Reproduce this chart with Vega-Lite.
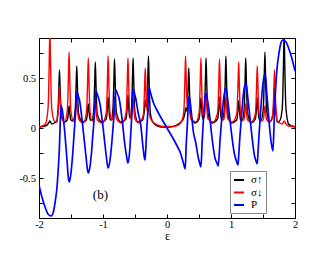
{
"$schema": "https://vega.github.io/schema/vega-lite/v6.json",
"width": 256, "height": 180,
"autosize": {"type": "none"},
"padding": {"left": 39, "top": 38, "right": 37, "bottom": 39},
"background": "white",
"config": {
 "view": {"stroke": "black", "strokeWidth": 1},
 "font": "Liberation Serif",
 "axis": {"domainColor": "black", "domainWidth": 1, "tickColor": "black", "tickWidth": 1, "tickSize": -4, "labelFont": "Liberation Serif", "labelFontSize": 10.5, "labelColor": "black", "grid": false, "labelFlush": false}
},
"datasets": {
"up": [{"e":-2,"v":0.01},{"e":-1.9,"v":0.02},{"e":-1.86,"v":0.04},{"e":-1.84,"v":0.06},{"e":-1.83,"v":0.07},{"e":-1.82,"v":0.06},{"e":-1.8,"v":0.04},{"e":-1.76,"v":0.05},{"e":-1.72,"v":0.07},{"e":-1.71,"v":0.13},{"e":-1.7,"v":0.21},{"e":-1.69,"v":0.4},{"e":-1.68,"v":0.58},{"e":-1.67,"v":0.4},{"e":-1.66,"v":0.21},{"e":-1.65,"v":0.13},{"e":-1.6,"v":0.06},{"e":-1.56,"v":0.08},{"e":-1.55,"v":0.1},{"e":-1.54,"v":0.16},{"e":-1.53,"v":0.22},{"e":-1.52,"v":0.16},{"e":-1.51,"v":0.1},{"e":-1.5,"v":0.08},{"e":-1.47,"v":0.07},{"e":-1.44,"v":0.14},{"e":-1.43,"v":0.23},{"e":-1.42,"v":0.43},{"e":-1.41,"v":0.62},{"e":-1.4,"v":0.43},{"e":-1.39,"v":0.23},{"e":-1.38,"v":0.14},{"e":-1.32,"v":0.06},{"e":-1.26,"v":0.08},{"e":-1.25,"v":0.11},{"e":-1.24,"v":0.18},{"e":-1.23,"v":0.24},{"e":-1.22,"v":0.18},{"e":-1.21,"v":0.11},{"e":-1.2,"v":0.08},{"e":-1.17,"v":0.08},{"e":-1.15,"v":0.14},{"e":-1.14,"v":0.24},{"e":-1.13,"v":0.45},{"e":-1.12,"v":0.66},{"e":-1.11,"v":0.45},{"e":-1.1,"v":0.24},{"e":-1.09,"v":0.14},{"e":-1.02,"v":0.06},{"e":-0.95,"v":0.09},{"e":-0.94,"v":0.13},{"e":-0.93,"v":0.22},{"e":-0.92,"v":0.31},{"e":-0.91,"v":0.22},{"e":-0.9,"v":0.13},{"e":-0.89,"v":0.09},{"e":-0.87,"v":0.08},{"e":-0.85,"v":0.15},{"e":-0.84,"v":0.25},{"e":-0.83,"v":0.47},{"e":-0.82,"v":0.69},{"e":-0.81,"v":0.47},{"e":-0.8,"v":0.25},{"e":-0.79,"v":0.15},{"e":-0.72,"v":0.06},{"e":-0.64,"v":0.09},{"e":-0.63,"v":0.14},{"e":-0.62,"v":0.23},{"e":-0.61,"v":0.33},{"e":-0.6,"v":0.23},{"e":-0.59,"v":0.14},{"e":-0.58,"v":0.1},{"e":-0.56,"v":0.15},{"e":-0.55,"v":0.25},{"e":-0.54,"v":0.48},{"e":-0.53,"v":0.7},{"e":-0.52,"v":0.48},{"e":-0.51,"v":0.25},{"e":-0.5,"v":0.15},{"e":-0.45,"v":0.06},{"e":-0.38,"v":0.08},{"e":-0.36,"v":0.14},{"e":-0.35,"v":0.2},{"e":-0.34,"v":0.28},{"e":-0.33,"v":0.22},{"e":-0.32,"v":0.22},{"e":-0.31,"v":0.3},{"e":-0.3,"v":0.49},{"e":-0.29,"v":0.72},{"e":-0.28,"v":0.49},{"e":-0.27,"v":0.26},{"e":-0.26,"v":0.15},{"e":-0.23,"v":0.07},{"e":-0.18,"v":0.03},{"e":-0.1,"v":0.01},{"e":0,"v":0.01},{"e":0.05,"v":0.01},{"e":0.15,"v":0.03},{"e":0.22,"v":0.06},{"e":0.26,"v":0.1},{"e":0.28,"v":0.15},{"e":0.29,"v":0.2},{"e":0.3,"v":0.17},{"e":0.31,"v":0.18},{"e":0.32,"v":0.24},{"e":0.33,"v":0.41},{"e":0.34,"v":0.6},{"e":0.35,"v":0.41},{"e":0.36,"v":0.22},{"e":0.37,"v":0.13},{"e":0.44,"v":0.05},{"e":0.5,"v":0.09},{"e":0.51,"v":0.13},{"e":0.52,"v":0.22},{"e":0.53,"v":0.3},{"e":0.54,"v":0.22},{"e":0.55,"v":0.13},{"e":0.56,"v":0.09},{"e":0.58,"v":0.15},{"e":0.59,"v":0.25},{"e":0.6,"v":0.48},{"e":0.61,"v":0.7},{"e":0.62,"v":0.48},{"e":0.63,"v":0.25},{"e":0.64,"v":0.15},{"e":0.7,"v":0.05},{"e":0.79,"v":0.09},{"e":0.8,"v":0.13},{"e":0.81,"v":0.22},{"e":0.82,"v":0.31},{"e":0.83,"v":0.22},{"e":0.84,"v":0.13},{"e":0.85,"v":0.09},{"e":0.86,"v":0.08},{"e":0.89,"v":0.15},{"e":0.9,"v":0.26},{"e":0.91,"v":0.49},{"e":0.92,"v":0.72},{"e":0.93,"v":0.49},{"e":0.94,"v":0.26},{"e":0.95,"v":0.15},{"e":1.01,"v":0.05},{"e":1.09,"v":0.08},{"e":1.1,"v":0.12},{"e":1.11,"v":0.2},{"e":1.12,"v":0.27},{"e":1.13,"v":0.2},{"e":1.14,"v":0.12},{"e":1.15,"v":0.08},{"e":1.17,"v":0.07},{"e":1.2,"v":0.15},{"e":1.21,"v":0.25},{"e":1.22,"v":0.48},{"e":1.23,"v":0.7},{"e":1.24,"v":0.48},{"e":1.25,"v":0.25},{"e":1.26,"v":0.15},{"e":1.31,"v":0.05},{"e":1.38,"v":0.09},{"e":1.39,"v":0.13},{"e":1.4,"v":0.22},{"e":1.41,"v":0.3},{"e":1.42,"v":0.22},{"e":1.43,"v":0.13},{"e":1.44,"v":0.09},{"e":1.46,"v":0.07},{"e":1.5,"v":0.16},{"e":1.51,"v":0.27},{"e":1.52,"v":0.52},{"e":1.53,"v":0.76},{"e":1.54,"v":0.52},{"e":1.55,"v":0.27},{"e":1.56,"v":0.16},{"e":1.6,"v":0.06},{"e":1.65,"v":0.11},{"e":1.66,"v":0.16},{"e":1.67,"v":0.29},{"e":1.68,"v":0.42},{"e":1.69,"v":0.29},{"e":1.7,"v":0.16},{"e":1.71,"v":0.11},{"e":1.72,"v":0.06},{"e":1.76,"v":0.07},{"e":1.8,"v":0.19},{"e":1.81,"v":0.34},{"e":1.82,"v":0.64},{"e":1.83,"v":0.95},{"e":1.84,"v":0.64},{"e":1.85,"v":0.34},{"e":1.86,"v":0.19},{"e":1.9,"v":0.04},{"e":1.95,"v":0.02},{"e":2,"v":0.01}],
"down": [{"e":-2,"v":0.01},{"e":-1.95,"v":0.02},{"e":-1.9,"v":0.04},{"e":-1.86,"v":0.19},{"e":-1.85,"v":0.34},{"e":-1.84,"v":0.66},{"e":-1.83,"v":0.98},{"e":-1.82,"v":0.66},{"e":-1.81,"v":0.34},{"e":-1.8,"v":0.19},{"e":-1.76,"v":0.07},{"e":-1.72,"v":0.06},{"e":-1.71,"v":0.11},{"e":-1.7,"v":0.16},{"e":-1.69,"v":0.29},{"e":-1.68,"v":0.42},{"e":-1.67,"v":0.29},{"e":-1.66,"v":0.16},{"e":-1.65,"v":0.11},{"e":-1.6,"v":0.06},{"e":-1.56,"v":0.16},{"e":-1.55,"v":0.27},{"e":-1.54,"v":0.52},{"e":-1.53,"v":0.76},{"e":-1.52,"v":0.52},{"e":-1.51,"v":0.27},{"e":-1.5,"v":0.16},{"e":-1.46,"v":0.07},{"e":-1.44,"v":0.09},{"e":-1.43,"v":0.13},{"e":-1.42,"v":0.22},{"e":-1.41,"v":0.3},{"e":-1.4,"v":0.22},{"e":-1.39,"v":0.13},{"e":-1.38,"v":0.09},{"e":-1.31,"v":0.05},{"e":-1.26,"v":0.15},{"e":-1.25,"v":0.25},{"e":-1.24,"v":0.48},{"e":-1.23,"v":0.7},{"e":-1.22,"v":0.48},{"e":-1.21,"v":0.25},{"e":-1.2,"v":0.15},{"e":-1.17,"v":0.07},{"e":-1.15,"v":0.08},{"e":-1.14,"v":0.12},{"e":-1.13,"v":0.2},{"e":-1.12,"v":0.27},{"e":-1.11,"v":0.2},{"e":-1.1,"v":0.12},{"e":-1.09,"v":0.08},{"e":-1.01,"v":0.05},{"e":-0.95,"v":0.15},{"e":-0.94,"v":0.26},{"e":-0.93,"v":0.49},{"e":-0.92,"v":0.72},{"e":-0.91,"v":0.49},{"e":-0.9,"v":0.26},{"e":-0.89,"v":0.15},{"e":-0.86,"v":0.08},{"e":-0.85,"v":0.09},{"e":-0.84,"v":0.13},{"e":-0.83,"v":0.22},{"e":-0.82,"v":0.31},{"e":-0.81,"v":0.22},{"e":-0.8,"v":0.13},{"e":-0.79,"v":0.09},{"e":-0.7,"v":0.05},{"e":-0.64,"v":0.15},{"e":-0.63,"v":0.25},{"e":-0.62,"v":0.48},{"e":-0.61,"v":0.7},{"e":-0.6,"v":0.48},{"e":-0.59,"v":0.25},{"e":-0.58,"v":0.15},{"e":-0.56,"v":0.09},{"e":-0.55,"v":0.13},{"e":-0.54,"v":0.22},{"e":-0.53,"v":0.3},{"e":-0.52,"v":0.22},{"e":-0.51,"v":0.13},{"e":-0.5,"v":0.09},{"e":-0.44,"v":0.05},{"e":-0.37,"v":0.13},{"e":-0.36,"v":0.22},{"e":-0.35,"v":0.41},{"e":-0.34,"v":0.6},{"e":-0.33,"v":0.41},{"e":-0.32,"v":0.24},{"e":-0.31,"v":0.18},{"e":-0.3,"v":0.17},{"e":-0.29,"v":0.2},{"e":-0.28,"v":0.15},{"e":-0.26,"v":0.1},{"e":-0.22,"v":0.06},{"e":-0.15,"v":0.03},{"e":-0.05,"v":0.015},{"e":0,"v":0.015},{"e":0.1,"v":0.015},{"e":0.18,"v":0.03},{"e":0.23,"v":0.07},{"e":0.26,"v":0.15},{"e":0.27,"v":0.26},{"e":0.28,"v":0.49},{"e":0.29,"v":0.72},{"e":0.3,"v":0.49},{"e":0.31,"v":0.3},{"e":0.32,"v":0.22},{"e":0.33,"v":0.22},{"e":0.34,"v":0.28},{"e":0.35,"v":0.2},{"e":0.36,"v":0.14},{"e":0.38,"v":0.08},{"e":0.45,"v":0.06},{"e":0.5,"v":0.15},{"e":0.51,"v":0.25},{"e":0.52,"v":0.48},{"e":0.53,"v":0.7},{"e":0.54,"v":0.48},{"e":0.55,"v":0.25},{"e":0.56,"v":0.15},{"e":0.58,"v":0.1},{"e":0.59,"v":0.14},{"e":0.6,"v":0.23},{"e":0.61,"v":0.33},{"e":0.62,"v":0.23},{"e":0.63,"v":0.14},{"e":0.64,"v":0.09},{"e":0.72,"v":0.06},{"e":0.79,"v":0.15},{"e":0.8,"v":0.25},{"e":0.81,"v":0.47},{"e":0.82,"v":0.69},{"e":0.83,"v":0.47},{"e":0.84,"v":0.25},{"e":0.85,"v":0.15},{"e":0.87,"v":0.08},{"e":0.89,"v":0.09},{"e":0.9,"v":0.13},{"e":0.91,"v":0.22},{"e":0.92,"v":0.31},{"e":0.93,"v":0.22},{"e":0.94,"v":0.13},{"e":0.95,"v":0.09},{"e":1.02,"v":0.06},{"e":1.09,"v":0.14},{"e":1.1,"v":0.24},{"e":1.11,"v":0.45},{"e":1.12,"v":0.66},{"e":1.13,"v":0.45},{"e":1.14,"v":0.24},{"e":1.15,"v":0.14},{"e":1.17,"v":0.08},{"e":1.2,"v":0.08},{"e":1.21,"v":0.11},{"e":1.22,"v":0.18},{"e":1.23,"v":0.24},{"e":1.24,"v":0.18},{"e":1.25,"v":0.11},{"e":1.26,"v":0.08},{"e":1.32,"v":0.06},{"e":1.38,"v":0.14},{"e":1.39,"v":0.23},{"e":1.4,"v":0.43},{"e":1.41,"v":0.62},{"e":1.42,"v":0.43},{"e":1.43,"v":0.23},{"e":1.44,"v":0.14},{"e":1.47,"v":0.07},{"e":1.5,"v":0.08},{"e":1.51,"v":0.1},{"e":1.52,"v":0.16},{"e":1.53,"v":0.22},{"e":1.54,"v":0.16},{"e":1.55,"v":0.1},{"e":1.56,"v":0.08},{"e":1.6,"v":0.06},{"e":1.65,"v":0.13},{"e":1.66,"v":0.21},{"e":1.67,"v":0.4},{"e":1.68,"v":0.58},{"e":1.69,"v":0.4},{"e":1.7,"v":0.21},{"e":1.71,"v":0.13},{"e":1.72,"v":0.07},{"e":1.76,"v":0.05},{"e":1.8,"v":0.04},{"e":1.82,"v":0.06},{"e":1.83,"v":0.07},{"e":1.84,"v":0.06},{"e":1.86,"v":0.04},{"e":1.9,"v":0.02},{"e":2,"v":0.015}],
"p": [{"e":-2,"v":-0.57},{"e":-1.95,"v":-0.7},{"e":-1.9,"v":-0.8},{"e":-1.86,"v":-0.86},{"e":-1.81,"v":-0.88},{"e":-1.78,"v":-0.85},{"e":-1.75,"v":-0.75},{"e":-1.72,"v":-0.6},{"e":-1.7,"v":-0.42},{"e":-1.68,"v":-0.18},{"e":-1.67,"v":0.02},{"e":-1.655,"v":0.23},{"e":-1.64,"v":0.19},{"e":-1.625,"v":0.13},{"e":-1.595,"v":-0.06},{"e":-1.56,"v":-0.34},{"e":-1.545,"v":-0.48},{"e":-1.53,"v":-0.54},{"e":-1.515,"v":-0.51},{"e":-1.5,"v":-0.45},{"e":-1.47,"v":-0.23},{"e":-1.44,"v":0.05},{"e":-1.425,"v":0.21},{"e":-1.41,"v":0.36},{"e":-1.39,"v":0.33},{"e":-1.365,"v":0.27},{"e":-1.31,"v":-0.02},{"e":-1.26,"v":-0.32},{"e":-1.245,"v":-0.41},{"e":-1.23,"v":-0.45},{"e":-1.21,"v":-0.41},{"e":-1.18,"v":-0.25},{"e":-1.16,"v":-0.08},{"e":-1.14,"v":0.08},{"e":-1.12,"v":0.28},{"e":-1.11,"v":0.37},{"e":-1.09,"v":0.34},{"e":-1.05,"v":0.25},{"e":-1,"v":0.01},{"e":-0.96,"v":-0.22},{"e":-0.94,"v":-0.33},{"e":-0.92,"v":-0.4},{"e":-0.89,"v":-0.32},{"e":-0.86,"v":-0.13},{"e":-0.83,"v":0.11},{"e":-0.8,"v":0.38},{"e":-0.78,"v":0.35},{"e":-0.75,"v":0.3},{"e":-0.7,"v":0.08},{"e":-0.66,"v":-0.16},{"e":-0.63,"v":-0.29},{"e":-0.61,"v":-0.35},{"e":-0.59,"v":-0.28},{"e":-0.57,"v":-0.1},{"e":-0.55,"v":0.13},{"e":-0.53,"v":0.39},{"e":-0.51,"v":0.35},{"e":-0.49,"v":0.3},{"e":-0.45,"v":0.15},{"e":-0.41,"v":0.03},{"e":-0.38,"v":-0.16},{"e":-0.36,"v":-0.27},{"e":-0.345,"v":-0.32},{"e":-0.335,"v":-0.25},{"e":-0.32,"v":-0.06},{"e":-0.3,"v":0.17},{"e":-0.285,"v":0.41},{"e":-0.26,"v":0.36},{"e":-0.23,"v":0.29},{"e":-0.21,"v":0.25},{"e":-0.15,"v":0.17},{"e":-0.1,"v":0.11},{"e":-0.05,"v":0.055},{"e":0,"v":0},{"e":0.05,"v":-0.055},{"e":0.1,"v":-0.11},{"e":0.15,"v":-0.17},{"e":0.21,"v":-0.25},{"e":0.23,"v":-0.29},{"e":0.26,"v":-0.36},{"e":0.285,"v":-0.41},{"e":0.3,"v":-0.17},{"e":0.32,"v":0.06},{"e":0.335,"v":0.25},{"e":0.345,"v":0.32},{"e":0.36,"v":0.27},{"e":0.38,"v":0.16},{"e":0.41,"v":-0.03},{"e":0.45,"v":-0.15},{"e":0.49,"v":-0.3},{"e":0.51,"v":-0.35},{"e":0.53,"v":-0.39},{"e":0.55,"v":-0.13},{"e":0.57,"v":0.1},{"e":0.59,"v":0.28},{"e":0.61,"v":0.35},{"e":0.63,"v":0.29},{"e":0.66,"v":0.16},{"e":0.7,"v":-0.08},{"e":0.75,"v":-0.3},{"e":0.78,"v":-0.35},{"e":0.8,"v":-0.38},{"e":0.83,"v":-0.11},{"e":0.86,"v":0.13},{"e":0.89,"v":0.32},{"e":0.92,"v":0.4},{"e":0.94,"v":0.33},{"e":0.96,"v":0.22},{"e":1,"v":-0.01},{"e":1.05,"v":-0.25},{"e":1.09,"v":-0.34},{"e":1.11,"v":-0.37},{"e":1.12,"v":-0.28},{"e":1.14,"v":-0.08},{"e":1.16,"v":0.08},{"e":1.18,"v":0.25},{"e":1.21,"v":0.41},{"e":1.23,"v":0.45},{"e":1.245,"v":0.41},{"e":1.26,"v":0.32},{"e":1.31,"v":0.02},{"e":1.365,"v":-0.27},{"e":1.39,"v":-0.33},{"e":1.41,"v":-0.36},{"e":1.425,"v":-0.21},{"e":1.44,"v":-0.05},{"e":1.47,"v":0.23},{"e":1.5,"v":0.45},{"e":1.515,"v":0.51},{"e":1.53,"v":0.54},{"e":1.545,"v":0.48},{"e":1.56,"v":0.34},{"e":1.595,"v":0.06},{"e":1.625,"v":-0.13},{"e":1.64,"v":-0.19},{"e":1.655,"v":-0.23},{"e":1.67,"v":-0.02},{"e":1.68,"v":0.18},{"e":1.7,"v":0.42},{"e":1.72,"v":0.6},{"e":1.75,"v":0.75},{"e":1.78,"v":0.85},{"e":1.81,"v":0.88},{"e":1.86,"v":0.86},{"e":1.9,"v":0.8},{"e":1.95,"v":0.7},{"e":2,"v":0.57}],
"lab": [{"e":-1.04,"v":-0.667,"t":"(b)"}]
},
"layer": [
 {"data": {"name": "up"},
  "mark": {"type": "line", "interpolate": "monotone", "strokeWidth": 1.4, "clip": true},
  "encoding": {
   "x": {"field": "e", "type": "quantitative", "scale": {"domain": [-2, 2], "nice": false, "zero": false},
         "axis": {"values": [-2,-1.5,-1,-0.5,0,0.5,1,1.5,2], "labelExpr": "datum.value % 1 === 0 ? '' + datum.value : ''", "labelPadding": 5, "title": "ε", "titleFont": "Liberation Serif", "titleFontSize": 12, "titleFontWeight": "normal", "titleColor": "black", "titleBaseline": "alphabetic", "titleY": 21}},
   "y": {"field": "v", "type": "quantitative", "scale": {"domain": [-0.9, 0.9], "nice": false, "zero": false},
         "axis": {"values": [-0.75,-0.5,-0.25,0,0.25,0.5,0.75], "labelExpr": "datum.value % 0.5 === 0 ? '' + datum.value : ''", "labelPadding": 7.5, "title": null}},
   "color": {"datum": "σ↑", "type": "nominal",
             "scale": {"domain": ["σ↑", "σ↓", "P"], "range": ["#000000", "#ff0000", "#0000ff"]},
             "legend": {"orient": "none", "legendX": 191, "legendY": 133, "title": null, "strokeColor": "#888888", "fillColor": "white", "padding": 3, "symbolType": "stroke", "symbolSize": 100, "symbolStrokeWidth": 2, "labelFont": "Liberation Serif", "labelFontSize": 11, "labelColor": "black", "labelOffset": 6, "rowPadding": 1.5}}
  }},
 {"data": {"name": "down"},
  "mark": {"type": "line", "interpolate": "monotone", "strokeWidth": 1.4, "clip": true},
  "encoding": {
   "x": {"field": "e", "type": "quantitative", "scale": {"domain": [-2, 2], "nice": false, "zero": false}, "axis": null},
   "y": {"field": "v", "type": "quantitative", "scale": {"domain": [-0.9, 0.9], "nice": false, "zero": false}, "axis": null},
   "color": {"datum": "σ↓", "type": "nominal"}
  }},
 {"data": {"name": "p"},
  "mark": {"type": "line", "interpolate": "monotone", "strokeWidth": 1.7, "clip": true},
  "encoding": {
   "x": {"field": "e", "type": "quantitative", "scale": {"domain": [-2, 2], "nice": false, "zero": false}, "axis": null},
   "y": {"field": "v", "type": "quantitative", "scale": {"domain": [-0.9, 0.9], "nice": false, "zero": false}, "axis": null},
   "color": {"datum": "P", "type": "nominal"}
  }},
 {"data": {"name": "lab"},
  "mark": {"type": "text", "font": "Liberation Serif", "fontSize": 13, "color": "black"},
  "encoding": {
   "x": {"field": "e", "type": "quantitative", "scale": {"domain": [-2, 2], "nice": false, "zero": false},
         "axis": {"orient": "top", "values": [-2,-1.5,-1,-0.5,0,0.5,1,1.5,2], "labels": false, "title": null}},
   "y": {"field": "v", "type": "quantitative", "scale": {"domain": [-0.9, 0.9], "nice": false, "zero": false},
         "axis": {"orient": "right", "values": [-0.75,-0.5,-0.25,0,0.25,0.5,0.75], "labels": false, "title": null}},
   "text": {"field": "t"}
  }}
],
"resolve": {"axis": {"x": "independent", "y": "independent"}}
}
